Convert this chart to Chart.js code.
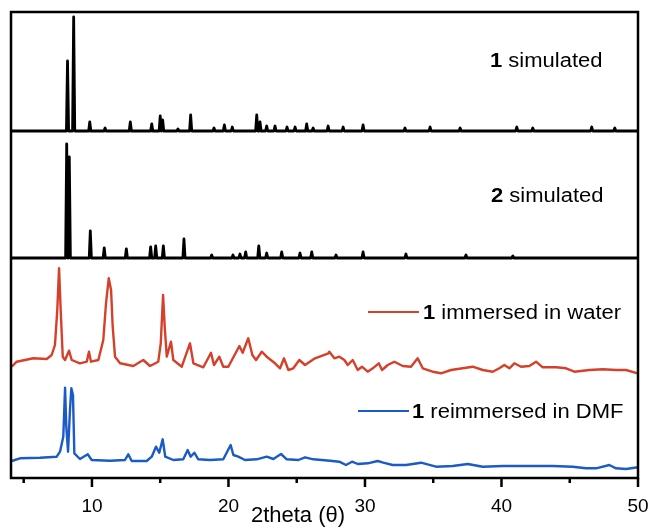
<!DOCTYPE html>
<html>
<head>
<meta charset="utf-8">
<script src="https://cdn.jsdelivr.net/npm/chart.js@4.4.1/dist/chart.umd.min.js"></script>
<style>
  html, body { margin: 0; padding: 0; background: #fff; }
  #chart-container { width: 656px; height: 528px; position: relative; }
</style>
</head>
<body>
<div id="chart-container"><canvas id="xrdChart"></canvas></div>
<script>
// x range (2theta, degrees) and the labelled ticks
const xMin = 4.07, xMax = 50;
const xTickLabels = [10, 20, 30, 40, 50];

// 1 simulated: peak positions (2theta) and heights (counts)
const sim1Pos = [8.21, 8.66, 9.84, 10.96, 12.81, 14.38, 15.0, 15.18, 16.3, 17.23, 18.94, 19.7, 20.28,
  22.07, 22.31, 22.8, 23.41, 24.29, 24.88, 25.73, 26.2, 27.3, 28.4, 29.86, 32.93, 34.77, 36.97,
  41.12, 42.29, 46.61, 48.3];
const sim1Int = [700, 1140, 90, 30, 90, 70, 150, 110, 20, 160, 30, 60, 40,
  160, 90, 50, 50, 40, 40, 70, 30, 50, 40, 60, 30, 40, 30,
  40, 30, 40, 30];

// 2 simulated
const sim2Pos = [8.15, 8.34, 9.88, 10.9, 12.52, 14.3, 14.67, 15.23, 16.74, 18.77, 20.33, 20.84, 21.26,
  22.22, 22.8, 23.9, 25.24, 26.1, 27.88, 29.86, 33.0, 37.4, 40.83];
const sim2Int = [1140, 1010, 270, 100, 90, 110, 120, 120, 190, 30, 30, 40, 60,
  120, 50, 60, 50, 60, 30, 60, 40, 30, 20];

// 1 immersed in water (measured)
const waterX = [4.12, 4.49, 5.70, 6.69, 7.05, 7.29, 7.46, 7.59, 7.71, 7.86, 8.03, 8.32, 8.52, 9.12, 9.62,
  9.78, 9.93, 10.47, 10.83, 11.03, 11.23, 11.40, 11.52, 11.69, 12.06, 13.03, 13.76, 14.25, 14.86, 15.04,
  15.21, 15.33, 15.48, 15.79, 15.96, 16.58, 17.18, 17.43, 18.16, 18.72, 18.94, 19.33, 19.62, 19.99, 20.80,
  21.04, 21.45, 21.75, 22.02, 22.44, 22.80, 23.41, 23.78, 24.07, 24.39, 24.75, 25.19, 25.61, 26.34, 27.32,
  27.39, 27.76, 28.12, 28.49, 28.74, 29.10, 29.47, 29.78, 30.20, 30.57, 31.01, 31.25, 31.67, 32.15, 32.77,
  33.37, 33.86, 34.23, 34.96, 35.57, 36.30, 37.16, 37.89, 38.63, 39.36, 39.84, 40.21, 40.58, 40.94, 41.43,
  42.04, 42.53, 43.02, 44.0, 44.73, 45.34, 46.44, 47.42, 48.39, 49.12, 49.98];
const waterY = [113, 163, 197, 190, 230, 330, 680, 1097, 680, 213, 180, 273, 180, 147, 163,
  263, 163, 180, 380, 747, 997, 880, 513, 213, 147, 120, 180, 120, 163, 347,
  830, 513, 213, 363, 180, 113, 347, 147, 107, 253, 130, 213, 113, 113, 320,
  253, 397, 230, 180, 263, 213, 147, 97, 197, 80, 97, 180, 130, 197, 247,
  263, 197, 213, 180, 130, 180, 80, 113, 63, 97, 147, 80, 130, 163, 120,
  113, 197, 97, 63, 47, 80, 97, 113, 80, 63, 97, 130, 97, 147, 113,
  120, 163, 107, 107, 97, 63, 80, 87, 80, 80, 47];

// 1 reimmersed in DMF (measured)
const dmfX = [4.12, 4.73, 6.19, 7.42, 7.66, 7.90, 8.03, 8.12, 8.25, 8.39, 8.49, 8.61, 8.71, 9.12, 9.69,
  9.98, 11.32, 12.42, 12.66, 12.91, 14.01, 14.38, 14.69, 14.93, 15.18, 15.37, 15.96, 16.69, 17.01, 17.23,
  17.50, 17.79, 18.65, 19.62, 20.16, 20.36, 20.72, 21.21, 22.07, 22.80, 23.29, 23.85, 24.27, 25.12, 25.61,
  26.22, 27.44, 28.12, 28.61, 29.05, 29.47, 30.20, 30.93, 31.34, 32.03, 33.01, 34.11, 35.2, 36.43, 37.53,
  38.63, 40.09, 41.8, 43.76, 45.22, 46.19, 46.93, 47.90, 48.39, 49.12, 50.0];
const dmfY = [170, 197, 203, 213, 263, 413, 903, 513, 263, 680, 897, 830, 247, 190, 237,
  180, 173, 180, 237, 170, 170, 213, 313, 253, 387, 213, 180, 187, 280, 213,
  253, 187, 180, 187, 330, 230, 213, 180, 187, 213, 190, 240, 187, 180, 207,
  187, 173, 163, 130, 163, 140, 147, 170, 153, 130, 130, 153, 113, 120, 140,
  113, 120, 120, 120, 113, 97, 97, 130, 97, 90, 107];

// vertical offsets used to stack the patterns
const offsets = { sim1: 3470, sim2: 2200, water: 1000, dmf: 0 };

function stickPattern(pos, ints, offset) {
  const w = 0.08;
  const pts = [{ x: xMin, y: offset }];
  pos.forEach((p, i) => {
    pts.push({ x: p - w, y: offset }, { x: p, y: offset + ints[i] }, { x: p + w, y: offset });
  });
  pts.push({ x: xMax, y: offset });
  return pts;
}
function measured(xs, ys, offset) {
  return xs.map((x, i) => ({ x: x, y: ys[i] + offset }));
}

const RED = '#D6402B';
const BLUE = '#1A5BC6';

function labelText(ctx, x, y, num, rest) {
  ctx.save();
  ctx.translate(x, y);
  ctx.scale(1.1, 1);
  ctx.fillStyle = '#000';
  ctx.textBaseline = 'alphabetic';
  ctx.font = 'bold 20px "Liberation Sans", Arial, sans-serif';
  ctx.fillText(num, 0, 0);
  const w = ctx.measureText(num).width;
  ctx.font = '20px "Liberation Sans", Arial, sans-serif';
  ctx.fillText(rest, w, 0);
  ctx.restore();
}

const decor = {
  id: 'decor',
  afterDraw(chart) {
    const { ctx, chartArea: a, scales: { x } } = chart;
    ctx.save();
    ctx.strokeStyle = '#000';
    ctx.lineWidth = 2.5;
    ctx.strokeRect(a.left, a.top, a.right - a.left, a.bottom - a.top);
    // major + minor ticks, outward
    for (let v = 5; v <= 50; v += 5) {
      const px = x.getPixelForValue(v);
      const len = v % 10 === 0 ? 9 : 5;
      ctx.beginPath();
      ctx.moveTo(px, a.bottom);
      ctx.lineTo(px, a.bottom + len);
      ctx.stroke();
    }
    // legend samples
    ctx.lineWidth = 2;
    ctx.strokeStyle = RED;
    ctx.beginPath(); ctx.moveTo(368, 312); ctx.lineTo(419, 312); ctx.stroke();
    ctx.strokeStyle = BLUE;
    ctx.beginPath(); ctx.moveTo(358, 411); ctx.lineTo(409, 411); ctx.stroke();
    ctx.restore();

    labelText(ctx, 490, 67, '1', ' simulated');
    labelText(ctx, 491, 202, '2', ' simulated');
    labelText(ctx, 423, 319, '1', ' immersed in water');
    labelText(ctx, 412, 418, '1', ' reimmersed in DMF');

    // axis title
    ctx.save();
    ctx.fillStyle = '#000';
    ctx.font = '22px "Liberation Sans", Arial, sans-serif';
    ctx.textAlign = 'center';
    ctx.textBaseline = 'alphabetic';
    ctx.fillText('2theta (\u03B8)', 298, 522);
    ctx.restore();
  }
};

Chart.defaults.font.family = '"Liberation Sans", Arial, sans-serif';
Chart.defaults.color = '#000';

const ctx = document.getElementById('xrdChart').getContext('2d');
const xrdChart = new Chart(ctx, {
  type: 'line',
  data: {
    datasets: [
      { label: '1 simulated', data: stickPattern(sim1Pos, sim1Int, offsets.sim1), borderColor: '#000', borderWidth: 2.8 },
      { label: '2 simulated', data: stickPattern(sim2Pos, sim2Int, offsets.sim2), borderColor: '#000', borderWidth: 2.8 },
      { label: '1 immersed in water', data: measured(waterX, waterY, offsets.water), borderColor: RED, borderWidth: 2.4 },
      { label: '1 reimmersed in DMF', data: measured(dmfX, dmfY, offsets.dmf), borderColor: BLUE, borderWidth: 2.4 }
    ]
  },
  options: {
    responsive: true,
    maintainAspectRatio: false,
    animation: false,
    parsing: false,
    elements: { point: { radius: 0 }, line: { tension: 0, borderJoinStyle: 'round' } },
    layout: { padding: { left: 11, right: 18, top: 12, bottom: 0 } },
    plugins: { legend: { display: false }, tooltip: { enabled: false } },
    scales: {
      x: {
        type: 'linear',
        min: xMin,
        max: xMax,
        afterBuildTicks: (scale) => { scale.ticks = xTickLabels.map(v => ({ value: v })); },
        afterFit: (scale) => { scale.height = 50; scale.paddingLeft = 0; scale.paddingRight = 0; },
        grid: { display: false, drawTicks: false },
        border: { display: false },
        ticks: { padding: 17, maxRotation: 0, font: { size: 19 }, color: '#000' }
      },
      y: {
        display: false,
        min: 0,
        max: 4660
      }
    }
  },
  plugins: [decor]
});
</script>
</body>
</html>
